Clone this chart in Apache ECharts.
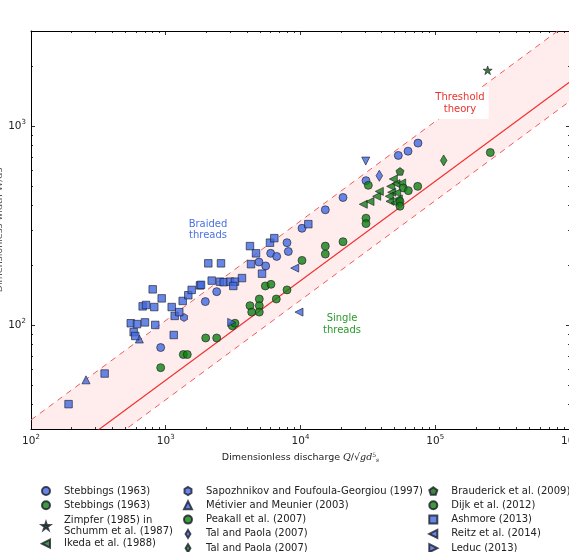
<!DOCTYPE html>
<html>
<head>
<meta charset="utf-8">
<script src="https://cdn.jsdelivr.net/npm/echarts@6/dist/echarts.min.js"></script>
<style>
html, body { margin: 0; padding: 0; background: #ffffff; }
#main { width: 569px; height: 552px; }
</style>
</head>
<body>
<div id="main"></div>
<script>
// points are [Q, W]
var stebbingsBlue = [[917, 77], [1966, 131], [2388, 147], [4920, 207], [5517, 198], [6008, 229], [6658, 221], [7939, 259], [8121, 234], [10260, 306], [15280, 379], [20680, 437], [30620, 531], [53190, 711], [62800, 747], [74470, 820]];
var stebbingsGreen = [[917, 61], [1350, 71], [1445, 71], [1979, 86], [2388, 86], [3119, 99], [3265, 102]];
var zimpfer = [[244900, 1905]];
var ikeda = [[29240, 404], [32800, 417], [36770, 443], [38450, 469], [48840, 541], [46710, 497], [47510, 464], [45600, 443], [46150, 418], [51140, 513], [56370, 517], [51740, 461], [53190, 430], [50280, 411]];
var downTriangle = [[30480, 666]];
var sapozhnikov = [[1366, 109]];
var metivier = [[256, 53], [637, 85]];
var peakall = [[4218, 125], [4946, 135], [4946, 125], [4946, 116], [4344, 116], [5480, 157], [6040, 160], [6613, 135], [7939, 150], [10260, 211], [15280, 249], [15280, 227], [20680, 262], [30620, 344], [30620, 323]];
var talBlue = [[38450, 562]];
var talGreen = [[115500, 671]];
var brauderick = [[54750, 591]];
var dijk = [[31860, 503], [57940, 488], [63100, 473], [74100, 497], [54750, 418], [54750, 395], [256200, 735]];
var ashmore = [[190, 40], [352, 57], [550, 102], [578, 92], [594, 88], [612, 101], [701, 103], [674, 124], [714, 126], [800, 151], [822, 123], [836, 100], [933, 136], [1107, 123], [1146, 89], [1165, 111], [1260, 116], [1336, 132], [1470, 141], [1558, 150], [1795, 158], [1826, 159], [2069, 204], [2570, 204], [2193, 167], [2527, 165], [2692, 164], [2998, 165], [3265, 165], [3172, 157], [3680, 172], [4218, 249], [4675, 229], [4293, 202], [5181, 181], [5938, 259], [6391, 273], [11430, 321]];
var reitz = [[9057, 193], [9745, 116]];
var leduc = [[3087, 103]];

// threshold theory line and its band
var lineQ = [100, 1000000];
var thresholdW = [16.7, 1666];
var upperW = [33.3, 3333];
var lowerW = [13.3, 1333];

var xMajorTicks = [100, 1000, 10000, 100000, 1000000];
var yMajorTicks = [100, 1000];
var xMinorTicks = [];
for (var d = 100; d < 1000000; d *= 10) {
	for (var k = 2; k < 10; k++) xMinorTicks.push(k * d);
}
var yMinorTicks = [30, 40, 50, 60, 70, 80, 90, 200, 300, 400, 500, 600, 700, 800, 900, 2000, 3000];

var legendText = {
	stebBlue: 'Stebbings (1963)',
	stebGreen: 'Stebbings (1963)',
	zimpfer: 'Zimpfer (1985) in\nSchumm et al. (1987)',
	ikeda: 'Ikeda et al. (1988)',
	sapozhnikov: 'Sapozhnikov and Foufoula-Georgiou (1997)',
	metivier: 'Métivier and Meunier (2003)',
	peakall: 'Peakall et al. (2007)',
	talBlue: 'Tal and Paola (2007)',
	talGreen: 'Tal and Paola (2007)',
	brauderick: 'Brauderick et al. (2009)',
	dijk: 'Dijk et al. (2012)',
	ashmore: 'Ashmore (2013)',
	reitz: 'Reitz et al. (2014)',
	leduc: 'Leduc (2013)'
};

function pairs(q, w) {
	var out = [];
	for (var i = 0; i < q.length; i++) out.push([q[i], w[i]]);
	return out;
}

var blue = '#4169e1';
var green = '#0f800f';
var edge = '#1c1c2c';
var font = 'DejaVu Sans';

var sym = {
	hexagon: 'path://M0,-10L8.66,-5L8.66,5L0,10L-8.66,5L-8.66,-5Z',
	pentagon: 'path://M0,-10L9.51,-3.09L5.88,8.09L-5.88,8.09L-9.51,-3.09Z',
	star: 'path://M0,-10L2.245,-3.09L9.511,-3.09L3.633,1.18L5.878,8.09L0,3.82L-5.878,8.09L-3.633,1.18L-9.511,-3.09L-2.245,-3.09Z',
	left: 'path://M-10,0L10,-10L10,10Z',
	right: 'path://M10,0L-10,-10L-10,10Z',
	down: 'path://M0,10L-10,-10L10,-10Z',
	up: 'path://M0,-10L-10,10L10,10Z',
	thin: 'path://M0,-10L6,0L0,10L-6,0Z'
};

function scatter(name, data, symbol, size, color) {
	return {
		name: name,
		type: 'scatter',
		data: data,
		symbol: symbol,
		symbolSize: size,
		symbolKeepAspect: true,
		itemStyle: { color: color, borderColor: edge, borderWidth: 0.8 },
		z: 5
	};
}

var legendBase = {
	orient: 'vertical',
	selectedMode: false,
	padding: 0,
	height: 120,
	itemWidth: 8,
	itemHeight: 8,
	itemGap: 4.3,
	textStyle: { fontFamily: font, fontSize: 10, color: '#222', lineHeight: 10, padding: [0, 0, 0, 9] }
};
function legend(left, top, names, lh) {
	var l = echarts.util.clone(legendBase);
	l.left = left;
	l.top = top;
	l.data = names;
	l.formatter = function (name) { return legendText[name]; };
	if (lh) l.textStyle.lineHeight = lh;
	return l;
}

var tickLabel = {
	fontFamily: font,
	fontSize: 10.5,
	color: '#222',
	formatter: function (v) { return '{b|10}{s|' + Math.round(Math.log(v) / Math.LN10) + '}'; },
	rich: {
		b: { fontFamily: font, fontSize: 10.5, color: '#222' },
		s: { fontFamily: font, fontSize: 7, color: '#222', padding: [0, 0, 7, 0] }
	}
};

function axis(kind, pos, ticks, len, labels, extra) {
	var a = {
		type: 'log',
		logBase: 10,
		position: pos,
		min: kind === 'x' ? 100 : 30,
		max: kind === 'x' ? 1000000 : 3000,
		splitLine: { show: false },
		axisLine: { show: !!extra, lineStyle: { color: '#000', width: 1 } },
		axisTick: { show: true, inside: true, length: len, customValues: ticks, lineStyle: { color: '#000', width: 0.8 } },
		axisLabel: labels ? echarts.util.extend({ customValues: ticks, margin: 5 }, tickLabel) : { show: false }
	};
	if (extra && extra.name) {
		a.name = extra.name;
		a.nameLocation = 'middle';
		a.nameGap = extra.gap;
		a.nameMoveOverlap = false;
		a.nameTextStyle = extra.style;
	}
	return a;
}

var myChart = echarts.init(document.getElementById('main'));

var option = {
	animation: false,
	backgroundColor: '#ffffff',
	grid: { left: 31, right: -1, top: 31, bottom: 123, containLabel: false, outerBoundsMode: 'none' },
	xAxis: [
		axis('x', 'bottom', xMajorTicks, 4, true, {
			name: 'Dimensionless discharge {i|Q}/√{i|gd}{u|5}{d|s}',
			gap: 23,
			style: {
				fontFamily: font, fontSize: 9.5, color: '#222',
				rich: {
					i: { fontFamily: 'DejaVu Serif', fontStyle: 'italic', fontSize: 9.5, color: '#222' },
					u: { fontFamily: 'DejaVu Serif', fontSize: 6, color: '#222', padding: [0, 0, 6, 0] },
					d: { fontFamily: 'DejaVu Serif', fontStyle: 'italic', fontSize: 6, color: '#222', padding: [5, 0, 0, 0] }
				}
			}
		}),
		axis('x', 'bottom', xMinorTicks, 2, false),
		axis('x', 'top', xMajorTicks, 4, false, {}),
		axis('x', 'top', xMinorTicks, 2, false)
	],
	yAxis: [
		axis('y', 'left', yMajorTicks, 4, true, {
			name: 'Dimensionless width W/ds',
			gap: 26,
			style: { fontFamily: font, fontSize: 9.5, color: '#555' }
		}),
		axis('y', 'left', yMinorTicks, 2, false),
		axis('y', 'right', yMajorTicks, 4, false, {}),
		axis('y', 'right', yMinorTicks, 2, false)
	],
	legend: [
		legend(41, 486, ['stebBlue', 'stebGreen']),
		legend(41, 514.3, ['zimpfer'], 11.7),
		legend(41, 538.7, ['ikeda']),
		legend(183, 486, ['sapozhnikov', 'metivier', 'peakall', 'talBlue', 'talGreen']),
		legend(428.3, 486, ['brauderick', 'dijk', 'ashmore', 'reitz', 'leduc'])
	],
	graphic: [
		{ type: 'text', z: 100, style: { text: 'Braided\nthreads', x: 208, y: 230, textAlign: 'center', textVerticalAlign: 'middle', fill: '#4a72e0', font: '10px "DejaVu Sans"', lineHeight: 11.5 } },
		{ type: 'text', z: 100, style: { text: 'Single\nthreads', x: 342, y: 324.5, textAlign: 'center', textVerticalAlign: 'middle', fill: '#2a9a2a', font: '10px "DejaVu Sans"', lineHeight: 11.5 } },
		{ type: 'text', z: 100, style: { text: 'Threshold\ntheory', x: 460, y: 103, textAlign: 'center', textVerticalAlign: 'middle', fill: '#e8332f', font: '10px "DejaVu Sans"', lineHeight: 12, backgroundColor: '#ffffff', padding: [4, 4, 4, 4] } }
	],
	series: [
		{
			type: 'custom',
			silent: true,
			clip: true,
			z: 1,
			data: [[100, 100]],
			renderItem: function (params, api) {
				var pts = [];
				for (var i = 0; i < lineQ.length; i++) pts.push(api.coord([lineQ[i], upperW[i]]));
				for (var j = lineQ.length - 1; j >= 0; j--) pts.push(api.coord([lineQ[j], lowerW[j]]));
				var cs = params.coordSys;
				return {
					type: 'polygon',
					shape: { points: pts },
					style: { fill: 'rgba(255,0,0,0.07)' },
					clipPath: { type: 'rect', shape: { x: cs.x, y: cs.y, width: cs.width, height: cs.height } }
				};
			}
		},
		{ type: 'line', data: pairs(lineQ, thresholdW), symbol: 'none', silent: true, z: 2, lineStyle: { color: '#f03030', width: 1.2 } },
		{ type: 'line', data: pairs(lineQ, upperW), symbol: 'none', silent: true, z: 2, lineStyle: { color: '#f05a5a', width: 1, type: [6, 5] } },
		{ type: 'line', data: pairs(lineQ, lowerW), symbol: 'none', silent: true, z: 2, lineStyle: { color: '#f05a5a', width: 1, type: [6, 5] } },
		scatter('stebBlue', stebbingsBlue, 'circle', 8, blue),
		scatter('stebGreen', stebbingsGreen, 'circle', 8, green),
		scatter('zimpfer', zimpfer, sym.star, 9, '#0b5a0b'),
		scatter('ikeda', ikeda, sym.left, 8, green),
		scatter('downTriangle', downTriangle, sym.down, 8, blue),
		scatter('sapozhnikov', sapozhnikov, sym.hexagon, 8, blue),
		scatter('metivier', metivier, sym.up, 8, blue),
		scatter('peakall', peakall, 'circle', 8, green),
		scatter('talBlue', talBlue, sym.thin, 11, blue),
		scatter('talGreen', talGreen, sym.thin, 11, green),
		scatter('brauderick', brauderick, sym.pentagon, 8, '#0b6a0b'),
		scatter('dijk', dijk, 'circle', 8, green),
		scatter('ashmore', ashmore, 'rect', 7.5, blue),
		scatter('reitz', reitz, sym.left, 8, blue),
		scatter('leduc', leduc, sym.right, 8, blue)
	]
};
myChart.setOption(option);
</script>
</body>
</html>
